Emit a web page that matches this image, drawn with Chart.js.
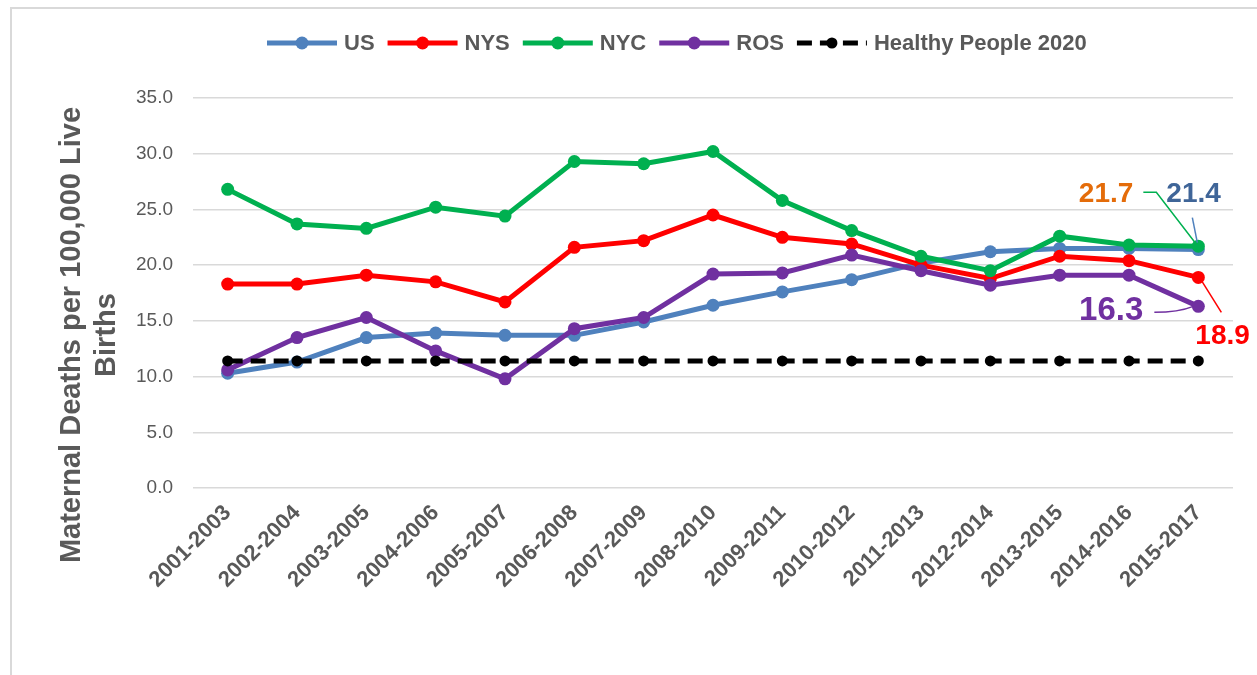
<!DOCTYPE html>
<html>
<head>
<meta charset="utf-8">
<script src="https://cdn.jsdelivr.net/npm/chart.js@4.4.1/dist/chart.umd.min.js"></script>
<style>
html,body{margin:0;padding:0;background:#fff;}
#wrap{width:1257px;height:675px;position:relative;}
</style>
</head>
<body>
<div id="wrap"><canvas id="c" width="1257" height="675"></canvas></div>
<script>
/* Maternal mortality, 3-year rolling rates */
const periods = ["2001-2003","2002-2004","2003-2005","2004-2006","2005-2007","2006-2008","2007-2009","2008-2010","2009-2011","2010-2012","2011-2013","2012-2014","2013-2015","2014-2016","2015-2017"];
const usRate  = [10.3,11.3,13.5,13.9,13.7,13.7,14.9,16.4,17.6,18.7,20.2,21.2,21.5,21.5,21.4];
const nysRate = [18.3,18.3,19.1,18.5,16.7,21.6,22.2,24.5,22.5,21.9,20.0,18.8,20.8,20.4,18.9];
const nycRate = [26.8,23.7,23.3,25.2,24.4,29.3,29.1,30.2,25.8,23.1,20.8,19.5,22.6,21.8,21.7];
const rosRate = [10.6,13.5,15.3,12.3,9.8,14.3,15.3,19.2,19.3,20.9,19.5,18.2,19.1,19.1,16.3];
const hpTarget = [11.4,11.4,11.4,11.4,11.4,11.4,11.4,11.4,11.4,11.4,11.4,11.4,11.4,11.4,11.4];
const yTitle = ["Maternal Deaths per 100,000 Live","Births"];

const FONT = "'Liberation Sans', Arial, sans-serif";
const GREY = "#595959";

function line(label, data, color, order, extra){
  return Object.assign({label, data, borderColor:color, backgroundColor:color, pointBackgroundColor:color,
    pointBorderColor:color, pointBorderWidth:0, borderWidth:5, pointRadius:6.5, tension:0, order, fill:false}, extra||{});
}

const frame = {
  id:"frame",
  beforeDraw(chart){
    const ctx = chart.ctx;
    ctx.save();
    ctx.strokeStyle = "#D9D9D9"; ctx.lineWidth = 2;
    ctx.beginPath(); ctx.moveTo(11, 675); ctx.lineTo(11, 8); ctx.lineTo(1257, 8); ctx.stroke();
    ctx.restore();
  }
};

const extras = {
  id:"extras",
  afterDraw(chart){
    const ctx = chart.ctx;
    ctx.save();
    // legend
    let x = 267; const ly = 43;
    ctx.font = "bold 22px " + FONT; ctx.textBaseline = "middle"; ctx.textAlign = "left";
    chart.data.datasets.forEach(ds=>{
      ctx.strokeStyle = ds.borderColor; ctx.fillStyle = ds.borderColor;
      ctx.lineWidth = 5;
      ctx.setLineDash(ds.borderDash || []);
      ctx.beginPath(); ctx.moveTo(x, ly); ctx.lineTo(x+70, ly); ctx.stroke();
      ctx.setLineDash([]);
      ctx.beginPath(); ctx.arc(x+35, ly, ds.pointRadius, 0, Math.PI*2); ctx.fill();
      x += 77;
      ctx.fillStyle = GREY;
      ctx.fillText(ds.label, x, ly+1);
      x += ctx.measureText(ds.label).width + 13;
    });
    // y axis title
    ctx.fillStyle = GREY; ctx.font = "bold 29px " + FONT; ctx.textAlign = "center";
    ctx.translate(72, 335); ctx.rotate(-Math.PI/2);
    ctx.fillText(yTitle[0], 0, 0);
    ctx.fillText(yTitle[1], 0, 35);
    ctx.restore();

    // end-point labels with leader lines
    const n = periods.length - 1;
    const px = chart.scales.x.getPixelForValue(n);
    const yy = v => chart.scales.y.getPixelForValue(v);
    const pUS = yy(usRate[n]), pNYS = yy(nysRate[n]), pNYC = yy(nycRate[n]), pROS = yy(rosRate[n]);
    ctx.save();
    ctx.lineWidth = 1.5; ctx.textBaseline = "middle";
    ctx.strokeStyle = "#00B050";
    ctx.beginPath(); ctx.moveTo(px-55, pNYC-54); ctx.lineTo(px-42, pNYC-54); ctx.lineTo(px-2, pNYC-2); ctx.stroke();
    ctx.strokeStyle = "#4F81BD";
    ctx.beginPath(); ctx.moveTo(px-6, pUS-32); ctx.lineTo(px-1, pUS-7); ctx.stroke();
    ctx.strokeStyle = "#7030A0";
    ctx.beginPath(); ctx.moveTo(px-44, pROS+6); ctx.quadraticCurveTo(px-20, pROS+6, px-5, pROS); ctx.stroke();
    ctx.strokeStyle = "#FF0000";
    ctx.beginPath(); ctx.moveTo(px+3, pNYS+3); ctx.lineTo(px+23, pNYS+35); ctx.stroke();

    ctx.font = "bold 28px " + FONT;
    ctx.fillStyle = "#E46C0A"; ctx.textAlign = "right";
    ctx.fillText(nycRate[n].toFixed(1), px-65, pNYC-52);
    ctx.fillStyle = "#3F6598"; ctx.textAlign = "left";
    ctx.fillText(usRate[n].toFixed(1), px-32, pUS-55);
    ctx.fillStyle = "#FF0000";
    ctx.fillText(nysRate[n].toFixed(1), px-3, pNYS+59);
    ctx.font = "bold 33px " + FONT;
    ctx.fillStyle = "#7030A0"; ctx.textAlign = "right";
    ctx.fillText(rosRate[n].toFixed(1), px-55, pROS+5);
    ctx.restore();
  }
};

new Chart(document.getElementById("c"), {
  type:"line",
  data:{
    labels:periods,
    datasets:[
      line("US", usRate, "#4F81BD", 4),
      line("NYS", nysRate, "#FF0000", 3),
      line("NYC", nycRate, "#00B050", 2),
      line("ROS", rosRate, "#7030A0", 1),
      line("Healthy People 2020", hpTarget, "#000000", 0, {borderDash:[15,8], pointRadius:5.5})
    ]
  },
  options:{
    responsive:false, animation:false, devicePixelRatio:1,
    layout:{padding:{top:98, right:24, bottom:0, left:0}},
    plugins:{legend:{display:false}, tooltip:{enabled:false}},
    scales:{
      x:{
        offset:true,
        grid:{display:false, drawTicks:false},
        border:{display:false},
        ticks:{autoSkip:false, minRotation:45, maxRotation:45, padding:12, color:GREY,
               font:{family:FONT, size:22, weight:"bold"}},
        afterFit(s){ s.height = 187; }
      },
      y:{
        min:0, max:35,
        grid:{color:"#D9D9D9", lineWidth:1.5, drawTicks:false},
        border:{display:false},
        ticks:{stepSize:5, padding:20, color:GREY, font:{family:FONT, size:19},
               callback:v=>Number(v).toFixed(1)},
        afterFit(s){ s.width = 193; }
      }
    }
  },
  plugins:[frame, extras]
});
</script>
</body>
</html>
